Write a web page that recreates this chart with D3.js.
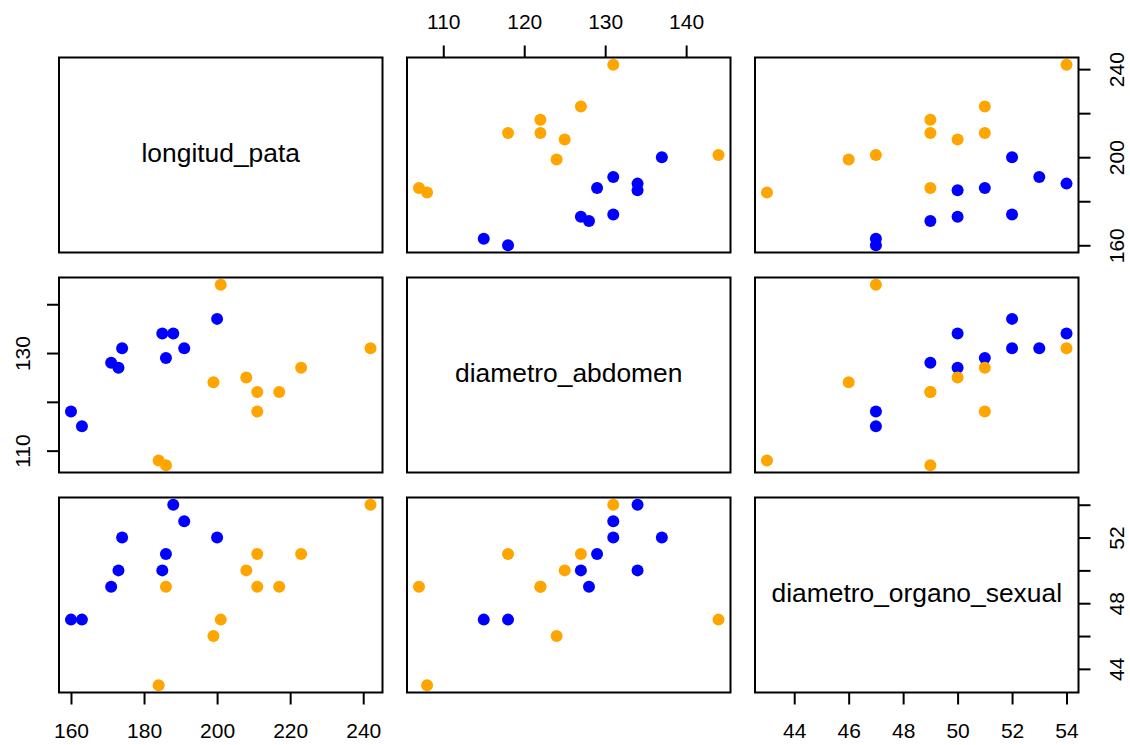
<!DOCTYPE html>
<html>
<head>
<meta charset="utf-8">
<script src="https://cdn.jsdelivr.net/npm/d3@7"></script>
<style>
  body { margin: 0; background: #fff; }
  svg { font-family: "Liberation Sans", Arial, Helvetica, sans-serif; }
</style>
</head>
<body>
<div id="pairs"></div>
<script>
  'use strict';

  // data, blue group first so orange is drawn on top (as in R)
  var variables = ["longitud_pata", "diametro_abdomen", "diametro_organo_sexual"];
  var longitud_pata = [200, 191, 188, 185, 186, 174, 173, 171, 163, 160,
    242, 223, 217, 211, 211, 208, 199, 201, 186, 184];
  var diametro_abdomen = [137, 131, 134, 134, 129, 131, 127, 128, 115, 118,
    131, 127, 122, 122, 118, 125, 124, 144, 107, 108];
  var diametro_organo_sexual = [52, 53, 54, 50, 51, 52, 50, 49, 47, 47,
    54, 51, 49, 49, 51, 50, 46, 47, 49, 43];
  var grupo = ["b", "b", "b", "b", "b", "b", "b", "b", "b", "b",
    "o", "o", "o", "o", "o", "o", "o", "o", "o", "o"];
  var groupColors = {b: "#0000FF", o: "#FFA500"};

  // ticks per variable, and which of them get a label on the rotated side axes
  var tickValues = [[160, 180, 200, 220, 240], [110, 120, 130, 140], [44, 46, 48, 50, 52, 54]];
  var sideLabels = [[160, 200, 240], [110, 130], [44, 48, 52]];

  var columns = [longitud_pata, diametro_abdomen, diametro_organo_sexual];

  var w = 1130;
  var h = 745;
  var panelX0 = 59;
  var panelY0 = 57.5;
  var panelW = 323.5;
  var panelH = 195;
  var stepX = 348;
  var stepY = 220;
  var tickLen = 12;
  var labelGap = 29;
  var tickFont = 21;
  var capH = tickFont * 0.716;
  var pointR = 6;

  var svg = d3.select("#pairs").append("svg")
    .attr("width", w)
    .attr("height", h);

  // R style 4% padding on both ends
  function padded(values) {
    var ext = d3.extent(values);
    var d = (ext[1] - ext[0]) * 0.04;
    return [ext[0] - d, ext[1] + d];
  }

  var xScales = columns.map(function (vals, j) {
    return d3.scaleLinear().domain(padded(vals))
      .range([panelX0 + j * stepX, panelX0 + j * stepX + panelW]);
  });
  var yScales = columns.map(function (vals, i) {
    return d3.scaleLinear().domain(padded(vals))
      .range([panelY0 + i * stepY + panelH, panelY0 + i * stepY]);
  });

  var n = variables.length;

  for (var i = 0; i < n; i++) {
    for (var j = 0; j < n; j++) {
      var px = panelX0 + j * stepX;
      var py = panelY0 + i * stepY;
      var panel = svg.append("g").attr("class", "panel");

      if (i === j) {
        panel.append("text")
          .attr("x", px + panelW / 2)
          .attr("y", py + panelH / 2)
          .attr("dy", 6.5)
          .attr("text-anchor", "middle")
          .attr("font-size", 26.4)
          .attr("fill", "#000")
          .text(variables[i]);
      } else {
        var xs = columns[j];
        var ys = columns[i];
        var xScale = xScales[j];
        var yScale = yScales[i];
        panel.selectAll("circle")
          .data(d3.range(xs.length))
          .enter()
          .append("circle")
          .attr("cx", function (k) { return xScale(xs[k]); })
          .attr("cy", function (k) { return yScale(ys[k]); })
          .attr("r", pointR)
          .attr("fill", function (k) { return groupColors[grupo[k]]; });
      }

      panel.append("rect")
        .attr("x", px)
        .attr("y", py)
        .attr("width", panelW)
        .attr("height", panelH)
        .attr("fill", "none")
        .attr("stroke", "#000")
        .attr("stroke-width", 2);
    }
  }

  function styleAxis(g) {
    g.select(".domain").remove();
    g.selectAll(".tick line").attr("stroke", "#000").attr("stroke-width", 2);
    g.selectAll(".tick text").attr("fill", "#000").attr("font-size", tickFont)
      .attr("font-family", "Liberation Sans, Arial, sans-serif");
  }

  // bottom axes on columns 1 and 3, top axis on column 2
  for (var c = 0; c < n; c++) {
    var onTop = (c % 2 === 1);
    var axisY = onTop ? panelY0 : panelY0 + (n - 1) * stepY + panelH;
    var ax = (onTop ? d3.axisTop(xScales[c]) : d3.axisBottom(xScales[c]))
      .tickValues(tickValues[c])
      .tickSize(tickLen)
      .tickSizeOuter(0)
      .tickPadding(labelGap - tickLen)
      .tickFormat(d3.format("d"));
    var gx = svg.append("g").attr("transform", "translate(0," + axisY + ")").call(ax);
    styleAxis(gx);
    if (onTop) {
      gx.selectAll(".tick text").attr("dy", 0);
    } else {
      gx.selectAll(".tick text").attr("dy", null).attr("y", labelGap + 1.5 + capH);
    }
  }

  // right axes on rows 1 and 3, left axis on row 2, labels parallel to axis
  for (var r = 0; r < n; r++) {
    var onLeft = (r % 2 === 1);
    var axisX = onLeft ? panelX0 : panelX0 + (n - 1) * stepX + panelW;
    var shown = sideLabels[r];
    var ay = (onLeft ? d3.axisLeft(yScales[r]) : d3.axisRight(yScales[r]))
      .tickValues(tickValues[r])
      .tickSize(tickLen)
      .tickSizeOuter(0)
      .tickFormat(function (v) { return shown.indexOf(v) >= 0 ? String(v) : ""; });
    var gy = svg.append("g").attr("transform", "translate(" + axisX + ",0)").call(ay);
    styleAxis(gy);
    var off = onLeft ? -labelGap : labelGap + 1.5 + capH;
    gy.selectAll(".tick text")
      .attr("x", null)
      .attr("dy", null)
      .attr("text-anchor", "middle")
      .attr("transform", "translate(" + off + ",0) rotate(-90)");
  }
</script>
</body>
</html>
